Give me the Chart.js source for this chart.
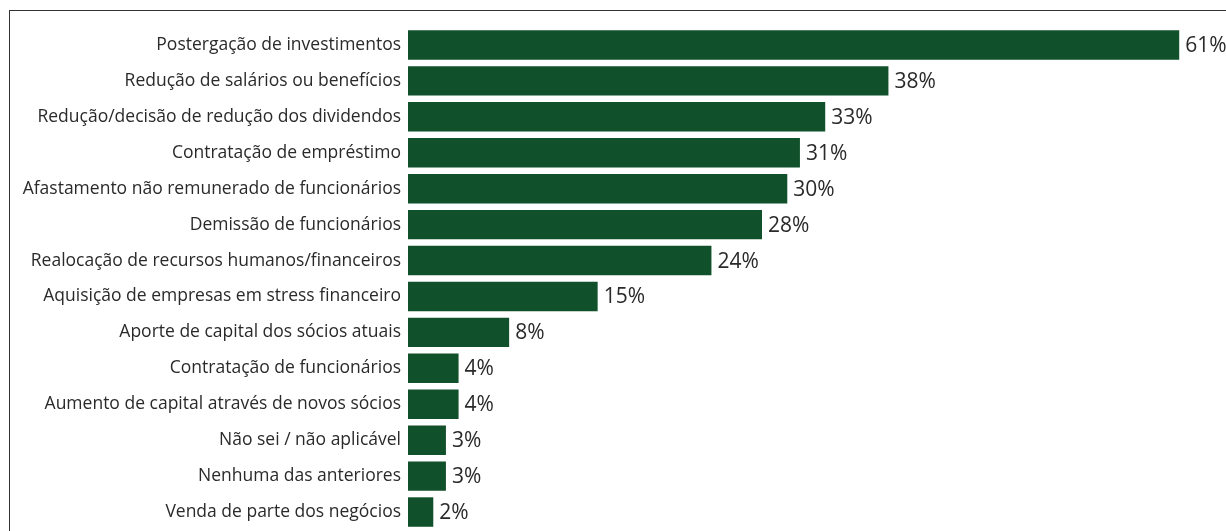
<!DOCTYPE html>
<html><head><meta charset="utf-8">
<script src="https://cdn.jsdelivr.net/npm/chart.js@4"></script>
<style>
html,body{margin:0;padding:0;background:#fff;}
#wrap{position:relative;width:1226px;height:531px;}
#frame{position:absolute;left:9px;top:10px;right:0;bottom:0;border-left:1px solid #333;border-top:1px solid #333;pointer-events:none;}
canvas{position:absolute;left:0;top:0;}
</style></head><body>
<div id="wrap"><canvas id="c" width="1226" height="531"></canvas><div id="frame"></div></div>
<script>
const categories = [
 "Postergação de investimentos",
 "Redução de salários ou benefícios",
 "Redução/decisão de redução dos dividendos",
 "Contratação de empréstimo",
 "Afastamento não remunerado de funcionários",
 "Demissão de funcionários",
 "Realocação de recursos humanos/financeiros",
 "Aquisição de empresas em stress financeiro",
 "Aporte de capital dos sócios atuais",
 "Contratação de funcionários",
 "Aumento de capital através de novos sócios",
 "Não sei / não aplicável",
 "Nenhuma das anteriores",
 "Venda de parte dos negócios"
];
const values = [61, 38, 33, 31, 30, 28, 24, 15, 8, 4, 4, 3, 3, 2];

const valueLabels = {
  id: 'valueLabels',
  afterDatasetsDraw(chart) {
    const ctx = chart.ctx;
    const meta = chart.getDatasetMeta(0);
    ctx.save();
    ctx.font = '21px "Open Sans"';
    ctx.fillStyle = '#2a2a2a';
    ctx.textBaseline = 'middle';
    ctx.textAlign = 'left';
    meta.data.forEach((bar, i) => {
      ctx.fillText(values[i] + '%', bar.x + 6, bar.y + 1);
    });
    ctx.restore();
  }
};

new Chart(document.getElementById('c'), {
  type: 'bar',
  data: {
    labels: categories,
    datasets: [{
      data: values,
      backgroundColor: '#10502a',
      borderWidth: 0,
      barPercentage: 0.82,
      categoryPercentage: 1.0
    }]
  },
  options: {
    indexAxis: 'y',
    responsive: false,
    animation: false,
    layout: { padding: { top: 27, bottom: 1, left: 0, right: 0 } },
    plugins: { legend: { display: false }, tooltip: { enabled: false } },
    scales: {
      x: { display: false, min: 0, max: 64.7 },
      y: {
        grid: { display: false, drawTicks: false },
        border: { display: false },
        ticks: { font: { family: '"Open Sans"', size: 17.5 }, color: '#2a2a2a', padding: 7 },
        afterFit(scale) { scale.width = 408; scale.paddingTop = 0; scale.paddingBottom = 0; }
      }
    }
  },
  plugins: [valueLabels]
});
</script>
</body></html>
